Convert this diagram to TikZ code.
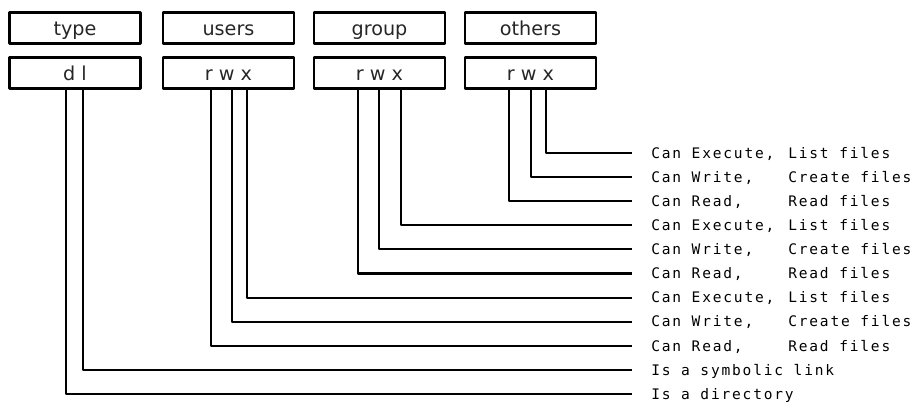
\documentclass[tikz,border=0pt]{standalone}
\usepackage{fontspec}
\setmainfont{DejaVu Sans}
\newfontfamily\permfont[LetterSpace=12.5]{DejaVu Sans Mono}
\begin{document}
\begin{tikzpicture}[x=0.75pt, y=-0.75pt, line join=round,
  box/.style={draw, line width=2.2pt, minimum width=98.25pt, minimum height=23.6pt,
    inner sep=0pt, text height=11.4pt, text depth=0pt, text=black!85,
    font=\fontsize{14.4}{16}\selectfont},
  lbl/.style={anchor=west, inner xsep=14.25pt, inner ysep=0pt, text height=7.8pt,
    text depth=0pt, text=black, font=\permfont\fontsize{10.9}{12}\selectfont},
  col/.style={lbl, inner xsep=0pt},
  wire/.style={line width=1.6pt}]
\useasboundingbox (0,0) rectangle (917,405);
% header and bit boxes
\foreach \n/\x/\t in {t/75/type, u/228.5/users, g/379.5/group, o/530.5/others}
  \node[box] (\n h) at (\x,28) {\t};
\foreach \n/\x/\t in {t/75/d l, u/228.5/r w x, g/379.5/r w x, o/530.5/r w x}
  \node[box] (\n b) at (\x,73) {\t};
% one row per bit
\foreach \n/\x/\i/\ta/\tb in {o/546/0/{Can Execute,}/{List files}, o/531/1/{Can Write,}/{Create files},
    o/509/2/{Can Read,}/{Read files}, g/401/3/{Can Execute,}/{List files},
    g/379/4/{Can Write,}/{Create files}, g/358/5/{Can Read,}/{Read files},
    u/247/6/{Can Execute,}/{List files}, u/232/7/{Can Write,}/{Create files},
    u/211/8/{Can Read,}/{Read files}, t/83/9/{Is a symbolic link}/{},
    t/66/10/{Is a directory}/{}}{
  \node[lbl] (r\i) at (632,{153+24.1*\i}) {\ta};
  \node[col] (s\i) at (788,{153+24.1*\i}) {\tb};
  \draw[wire] (\n b.south -| \x,0) |- (r\i.west);
}
\end{tikzpicture}
\end{document}
